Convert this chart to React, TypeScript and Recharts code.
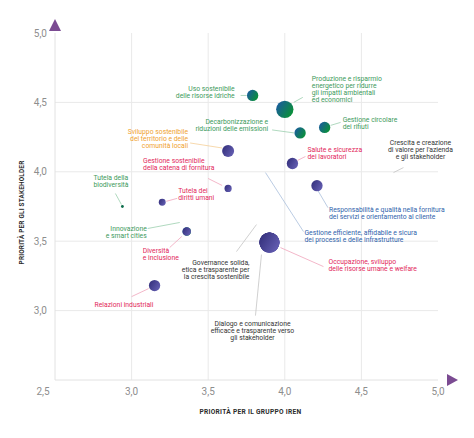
import { ScatterChart, Scatter, XAxis, YAxis, ZAxis, CartesianGrid, ReferenceDot } from 'recharts'

// materiality matrix: priority for the group (x) vs. priority for stakeholders (y)
const TOPICS = [
  'Uso sostenibile delle risorse idriche',
  'Produzione e risparmio energetico per ridurre gli impatti ambientali ed economici',
  'Decarbonizzazione e riduzioni delle emissioni',
  'Gestione circolare dei rifiuti',
  'Sviluppo sostenibile del territorio e delle comunità locali',
  'Salute e sicurezza dei lavoratori',
  'Gestione sostenibile della catena di fornitura',
  'Responsabilità e qualità nella fornitura dei servizi e orientamento al cliente',
  'Tutela dei diritti umani',
  'Tutela della biodiversità',
  'Innovazione e smart cities',
  'Diversità e inclusione',
  'Governance solida, etica e trasparente per la crescita sostenibile',
  'Dialogo e comunicazione efficace e trasparente verso gli stakeholder',
  'Occupazione, sviluppo delle risorse umane e welfare',
  'Gestione efficiente, affidabile e sicura dei processi e delle infrastrutture',
  "Crescita e creazione di valore per l'azienda e gli stakeholder",
  'Relazioni industriali',
]
const IREN_PRIORITY = [3.79, 4.0, 4.1, 4.26, 3.63, 4.05, 3.63, 4.21, 3.2, 2.94, 3.36, 3.36, 3.9, 3.9, 3.9, 3.9, 3.9, 3.15]
const STAKEHOLDER_PRIORITY = [4.55, 4.45, 4.28, 4.32, 4.15, 4.06, 3.88, 3.9, 3.78, 3.75, 3.57, 3.57, 3.49, 3.49, 3.49, 3.49, 3.49, 3.18]
const WEIGHT = [32, 75, 32, 32, 36, 32, 13, 32, 12, 2, 18, 18, 100, 100, 100, 100, 100, 32]
const AREA = ['env', 'env', 'env', 'env', 'community', 'people', 'people', 'client', 'people', 'env', 'env', 'people', 'gov', 'gov', 'people', 'client', 'gov', 'people']

const X_TICKS = [2.5, 3, 3.5, 4, 4.5, 5]
const Y_TICKS = [3, 3.5, 4, 4.5, 5]
const GRID_VALUES = [3, 3.5, 4, 4.5]

const LABEL_LINES = [
  ['Uso sostenibile', 'delle risorse idriche'],
  ['Produzione e risparmio', 'energetico per ridurre', 'gli impatti ambientali', 'ed economici'],
  ['Decarbonizzazione e', 'riduzioni delle emissioni'],
  ['Gestione circolare', 'dei rifiuti'],
  ['Sviluppo sostenibile', 'del territorio e delle', 'comunità locali'],
  ['Salute e sicurezza', 'dei lavoratori'],
  ['Gestione sostenibile', 'della catena di fornitura'],
  ['Responsabilità e qualità nella fornitura', 'dei servizi e orientamento al cliente'],
  ['Tutela dei', 'diritti umani'],
  ['Tutela della', 'biodiversità'],
  ['Innovazione', 'e smart cities'],
  ['Diversità', 'e inclusione'],
  ['Governance solida,', 'etica e trasparente per', 'la crescita sostenibile'],
  ['Dialogo e comunicazione', 'efficace e trasparente verso', 'gli stakeholder'],
  ['Occupazione, sviluppo', 'delle risorse umane e welfare'],
  ['Gestione efficiente, affidabile e sicura', 'dei processi e delle infrastrutture'],
  ['Crescita e creazione', "di valore per l'azienda", 'e gli stakeholder'],
  ['Relazioni industriali'],
]

// label placement relative to the bubble centre: [dx, dy of first line, anchor]
const LABEL_POS: [number, number, string][] = [
  [-18, -6, 'end'], [27, -30, 'start'], [-32, -11, 'end'], [18, -7, 'start'],
  [-40, -19, 'end'], [15, -13, 'start'], [-85, -27, 'start'], [12, 24, 'start'],
  [16, -11, 'start'], [-29, -29, 'start'], [-40, -2, 'end'], [-44, 20, 'start'],
  [-20, 20, 'end'], [-17, 81, 'middle'], [59, 19, 'start'], [35, -10, 'start'],
  [151, -100, 'middle'], [-60, 19, 'start'],
]
// leader line relative to the bubble centre: [x1, y1, x2, y2]
const LEADERS = [
  [-12, 0, -6, 0], [9, -7, 18, -12], [-28, -3, -6, 0], [6, -2, 16, -5],
  [-38, -8, -6, -3], [5, -3, 13, -7], [-20, -10, -6, -3], [1, 5, 11, 22],
  [4, -1, 15, -4], [-7, -13, -1, -2], [-39, -3, -7, -9], [-17, 16, -5, 5],
  [-33, 9, -13, -18], [-14, 73, -8, 12], [11, 5, 54, 24], [34, -11, -4, -70],
  [124, -70, 134, -75], [-23, 11, -6, 3],
]

const TEXT_COLOR: Record<string, string> = {
  env: '#3d9a5c',
  community: '#f0a12e',
  people: '#e2275b',
  client: '#2f63ab',
  gov: '#333333',
}
const LEADER_COLOR: Record<string, string> = {
  env: '#9ccfae',
  community: '#f5cf98',
  people: '#f0a5bb',
  client: '#a9bfdc',
  gov: '#c4c4c4',
}

const data = TOPICS.map((name, i) => ({
  id: i,
  name,
  iren: IREN_PRIORITY[i],
  stake: STAKEHOLDER_PRIORITY[i],
  weight: WEIGHT[i],
  area: AREA[i],
}))

const fmt = (v: number) => v.toFixed(1).replace('.', ',')
const FONT = 'Roboto, sans-serif'

function Annotation(props: any) {
  const { cx, cy, payload } = props
  const i = payload.id
  const [dx, dy, anchor] = LABEL_POS[i]
  const [x1, y1, x2, y2] = LEADERS[i]
  return (
    <g>
      <line x1={cx + x1} y1={cy + y1} x2={cx + x2} y2={cy + y2} stroke={LEADER_COLOR[payload.area]} strokeWidth={0.8} />
      <text textAnchor={anchor as any} fontFamily={FONT} fontSize={6.8} fill={TEXT_COLOR[payload.area]}>
        {LABEL_LINES[i].map((t, k) => (
          <tspan key={k} x={cx + dx} y={cy + dy + k * 7} dominantBaseline="central">{t}</tspan>
        ))}
      </text>
    </g>
  )
}

function Bubble(props: any) {
  const { cx, cy, width, payload } = props
  const r = width / 2
  const id = `bubble-${payload.id}`
  const green = payload.area === 'env'
  if (r < 2) return <circle cx={cx} cy={cy} r={r} fill="#0e6e4c" />
  return (
    <g>
      <defs>
        {green ? (
          <linearGradient id={id} x1="0" y1="0" x2="1" y2="0.6">
            <stop offset="0%" stopColor="#1c55aa" />
            <stop offset="100%" stopColor="#0a8f3a" />
          </linearGradient>
        ) : (
          <linearGradient id={id} x1="0" y1="0.2" x2="1" y2="0.8">
            <stop offset="0%" stopColor="#34307c" />
            <stop offset="100%" stopColor="#6660b4" />
          </linearGradient>
        )}
      </defs>
      <circle cx={cx} cy={cy} r={r} fill={`url(#${id})`} />
    </g>
  )
}

function XTick(props: any) {
  const { x, y, payload } = props
  const shift = payload.value === 2.5 ? -12 : 0
  return (
    <text x={x + shift} y={y} dy="0.71em" textAnchor="middle" fontFamily={FONT} fontSize={10} fill="#8e8e8e">
      {fmt(payload.value)}
    </text>
  )
}

export default function App() {
  return (
    <div style={{ width: 474, height: 438 }}>
      <style>{'body{margin:0}'}</style>
      <ScatterChart width={474} height={438} margin={{ top: 33, right: 36, left: 15, bottom: 28 }}>
        <CartesianGrid horizontalValues={GRID_VALUES} verticalValues={GRID_VALUES} stroke="#e9e9e9" />
        <XAxis
          type="number"
          dataKey="iren"
          domain={[2.5, 5]}
          ticks={X_TICKS}
          height={30}
          tickLine={false}
          axisLine={{ stroke: '#e2e2e2' }}
          tick={<XTick />}
          label={(p: any) => {
            const vb = p.viewBox
            return (
              <text x={vb.x + vb.width / 2 + 4} y={vb.y + 32} textAnchor="middle" dominantBaseline="central"
                fontFamily={FONT} fontSize={6.6} fontWeight={700} letterSpacing={0.3} fill="#2b2b2b">
                PRIORITÀ PER IL GRUPPO IREN
              </text>
            )
          }}
        />
        <YAxis
          type="number"
          dataKey="stake"
          domain={[2.5, 5]}
          ticks={Y_TICKS}
          width={40}
          tickLine={false}
          axisLine={{ stroke: '#e2e2e2' }}
          tickFormatter={fmt}
          tick={{ fill: '#8e8e8e', fontSize: 10, fontFamily: FONT }}
          label={(p: any) => {
            const vb = p.viewBox
            const x = vb.x + 7
            const y = vb.y + vb.height / 2 + 6
            return (
              <text x={x} y={y} transform={`rotate(-90 ${x} ${y})`} textAnchor="middle" dominantBaseline="central"
                fontFamily={FONT} fontSize={6.4} fontWeight={700} letterSpacing={0.2} fill="#2b2b2b">
                PRIORITÀ PER GLI STAKEHOLDER
              </text>
            )
          }}
        />
        <ZAxis type="number" dataKey="weight" domain={[0, 100]} range={[0, 314]} />
        <Scatter data={data} shape={<Annotation />} isAnimationActive={false} />
        <Scatter data={data} shape={<Bubble />} isAnimationActive={false} />
        <ReferenceDot
          x={2.5}
          y={5}
          ifOverflow="visible"
          shape={(p: any) => (
            <path d={`M${p.cx - 6},${p.cy - 2} L${p.cx + 6},${p.cy - 2} L${p.cx},${p.cy - 14} Z`} fill="#7b4b92" />
          )}
        />
        <ReferenceDot
          x={5}
          y={2.5}
          ifOverflow="visible"
          shape={(p: any) => (
            <path d={`M${p.cx + 9},${p.cy - 6} L${p.cx + 9},${p.cy + 6} L${p.cx + 20},${p.cy} Z`} fill="#7b4b92" />
          )}
        />
      </ScatterChart>
    </div>
  )
}
